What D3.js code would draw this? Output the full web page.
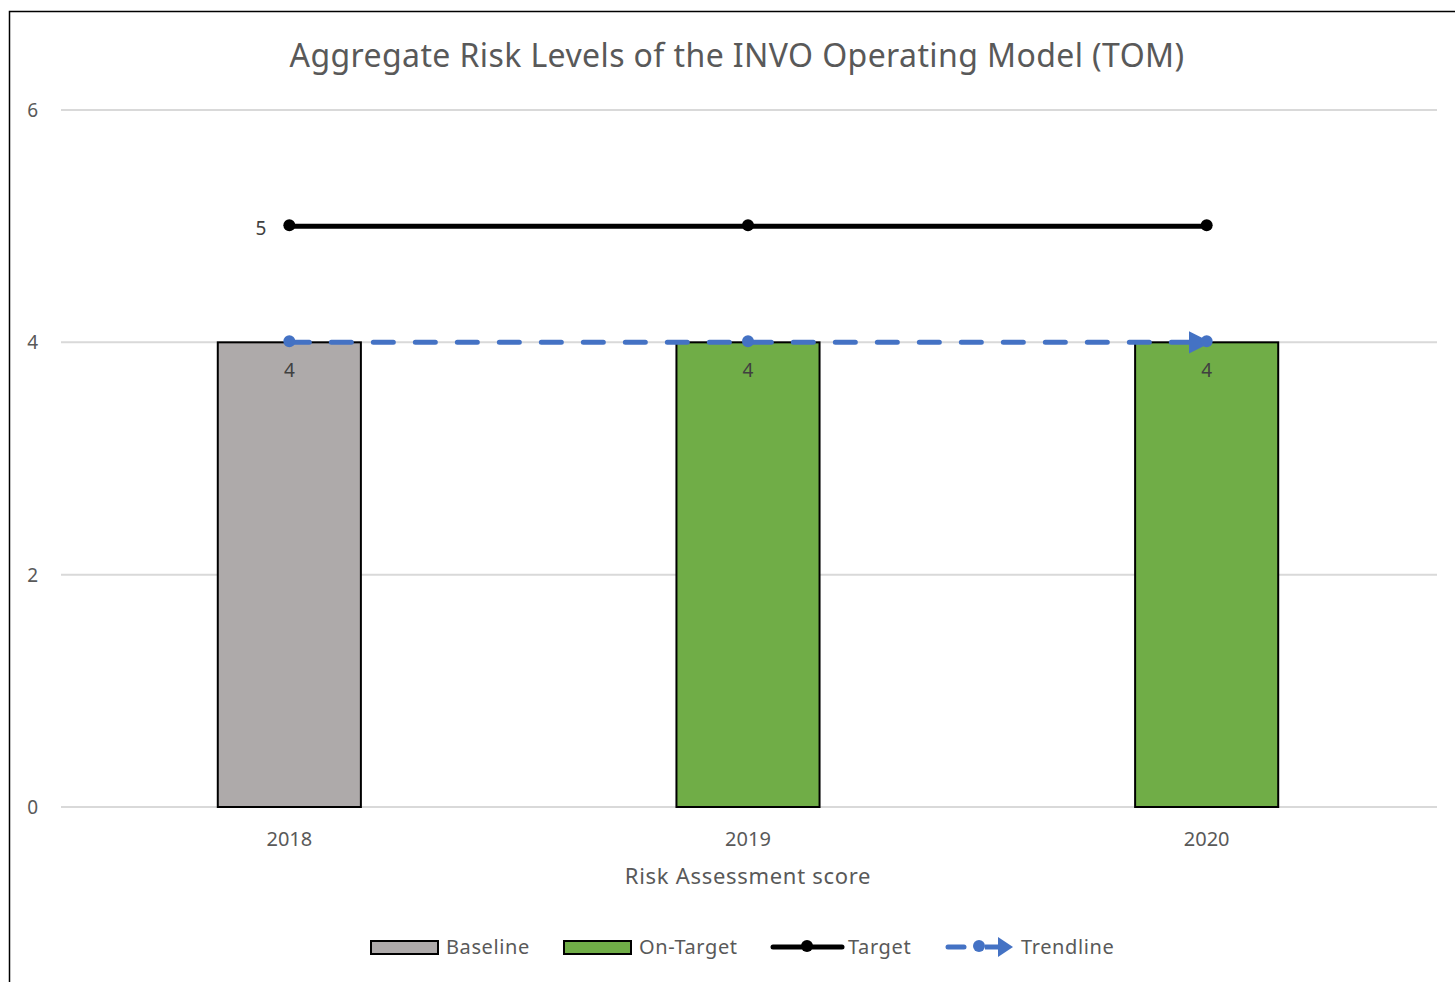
<!DOCTYPE html>
<html>
<head>
<meta charset="utf-8">
<script src="https://cdn.jsdelivr.net/npm/d3@7"></script>
<style>
  body { margin: 0; background: #fff; }
  text { font-family: "Noto Sans", "Open Sans", sans-serif; fill: #595959; }
</style>
</head>
<body>
<div id="chart"></div>
<script>
// chart data
let years = ["2018", "2019", "2020"];
let barValues = [4, 4, 4];
let barSeries = ["Baseline", "On-Target", "On-Target"];
let targetValues = [5, 5, 5];
let trendValues = [4, 4, 4];
let yTicks = [0, 2, 4, 6];

let width = 1455, height = 982;
let margin = {top: 110, right: 18, bottom: 175, left: 61};

let svg = d3.select("#chart").append("svg")
    .attr("width", width)
    .attr("height", height);

// outer frame (only left and top edge visible)
svg.append("path")
    .attr("d", "M9.5," + height + "V11.5H" + width)
    .attr("fill", "none")
    .attr("stroke", "#000")
    .attr("stroke-width", 1.5);

svg.append("text")
    .attr("x", 737)
    .attr("y", 67)
    .attr("text-anchor", "middle")
    .style("font-size", "32px")
    .style("letter-spacing", "0.4px")
    .text("Aggregate Risk Levels of the INVO Operating Model (TOM)");

let x = d3.scaleBand()
    .domain(years)
    .range([margin.left, width - margin.right])
    .paddingInner(0)
    .paddingOuter(0);

let y = d3.scaleLinear()
    .domain([0, 6])
    .range([height - margin.bottom, margin.top]);

let barW = x.bandwidth() * 0.312;
let cx = d => x(d) + x.bandwidth() / 2 - 1;

let colors = {"Baseline": "#AEAAAA", "On-Target": "#70AD47"};

// gridlines
svg.append("g").selectAll("line")
    .data(yTicks)
    .enter().append("line")
    .attr("x1", margin.left)
    .attr("x2", width - margin.right)
    .attr("y1", d => y(d))
    .attr("y2", d => y(d))
    .attr("stroke", "#D9D9D9")
    .attr("stroke-width", 2);

// y tick labels
svg.append("g").selectAll("text")
    .data(yTicks)
    .enter().append("text")
    .attr("x", 38)
    .attr("y", d => y(d) + 7)
    .attr("text-anchor", "end")
    .style("font-size", "19px")
    .text(d => d);

// bars
svg.append("g").selectAll("rect")
    .data(years)
    .enter().append("rect")
    .attr("x", d => cx(d) - barW / 2)
    .attr("y", (d, i) => y(barValues[i]))
    .attr("width", barW)
    .attr("height", (d, i) => y(0) - y(barValues[i]))
    .attr("fill", (d, i) => colors[barSeries[i]])
    .attr("stroke", "#000")
    .attr("stroke-width", 2);

// bar labels
svg.append("g").selectAll("text")
    .data(years)
    .enter().append("text")
    .attr("x", d => cx(d))
    .attr("y", (d, i) => y(barValues[i]) + 35)
    .attr("text-anchor", "middle")
    .style("font-size", "19px")
    .style("fill", "#404040")
    .text((d, i) => barValues[i]);

// x labels
svg.append("g").selectAll("text")
    .data(years)
    .enter().append("text")
    .attr("x", d => cx(d))
    .attr("y", y(0) + 39)
    .attr("text-anchor", "middle")
    .style("font-size", "20px")
    .text(d => d);

svg.append("text")
    .attr("x", 748)
    .attr("y", 884)
    .attr("text-anchor", "middle")
    .style("font-size", "22px")
    .style("letter-spacing", "0.7px")
    .text("Risk Assessment score");

// target line
let line = d3.line()
    .x(d => cx(d.year))
    .y(d => y(d.value));

let targetData = years.map((d, i) => ({year: d, value: targetValues[i]}));
svg.append("path")
    .datum(targetData)
    .attr("d", line)
    .attr("fill", "none")
    .attr("stroke", "#000")
    .attr("stroke-width", 5);
svg.append("g").selectAll("circle")
    .data(targetData)
    .enter().append("circle")
    .attr("cx", d => cx(d.year))
    .attr("cy", d => y(d.value) - 1)
    .attr("r", 6)
    .attr("fill", "#000");
svg.append("text")
    .attr("x", cx(years[0]) - 23)
    .attr("y", y(targetValues[0]) + 9)
    .attr("text-anchor", "end")
    .style("font-size", "19px")
    .style("fill", "#404040")
    .text(targetValues[0]);

// trendline
let trendData = years.map((d, i) => ({year: d, value: trendValues[i]}));
let blue = "#4472C4";
svg.append("defs").append("marker")
    .attr("id", "arrow")
    .attr("viewBox", "0 0 10 10")
    .attr("refX", 8)
    .attr("refY", 5)
    .attr("markerWidth", 4.5)
    .attr("markerHeight", 4.5)
    .attr("markerUnits", "strokeWidth")
    .attr("orient", "auto")
    .append("path")
    .attr("d", "M0,0L10,5L0,10Z")
    .attr("fill", blue);

svg.append("path")
    .datum(trendData)
    .attr("d", line)
    .attr("fill", "none")
    .attr("stroke", blue)
    .attr("stroke-width", 5)
    .attr("stroke-linecap", "round")
    .attr("stroke-dasharray", "20,22")
    .attr("marker-end", "url(#arrow)");
svg.append("g").selectAll("circle")
    .data(trendData)
    .enter().append("circle")
    .attr("cx", d => cx(d.year))
    .attr("cy", d => y(d.value) - 1)
    .attr("r", 6)
    .attr("fill", blue);

// legend
let legendY = 947;
let lg = svg.append("g");
let lgFont = "20px", lgSpacing = "0.6px";

lg.append("rect").attr("x", 371).attr("y", legendY - 6).attr("width", 67).attr("height", 13)
    .attr("fill", colors["Baseline"]).attr("stroke", "#000").attr("stroke-width", 2);
lg.append("text").attr("x", 446).attr("y", legendY + 7).style("font-size", lgFont)
    .style("letter-spacing", lgSpacing).text("Baseline");

lg.append("rect").attr("x", 564).attr("y", legendY - 6).attr("width", 67).attr("height", 13)
    .attr("fill", colors["On-Target"]).attr("stroke", "#000").attr("stroke-width", 2);
lg.append("text").attr("x", 639).attr("y", legendY + 7).style("font-size", lgFont)
    .style("letter-spacing", lgSpacing).text("On-Target");

lg.append("line").attr("x1", 773).attr("x2", 842).attr("y1", legendY).attr("y2", legendY)
    .attr("stroke", "#000").attr("stroke-width", 5).attr("stroke-linecap", "round");
lg.append("circle").attr("cx", 807).attr("cy", legendY - 1).attr("r", 6).attr("fill", "#000");
lg.append("text").attr("x", 848).attr("y", legendY + 7).style("font-size", lgFont)
    .style("letter-spacing", lgSpacing).text("Target");

lg.append("line").attr("x1", 948).attr("x2", 964).attr("y1", legendY).attr("y2", legendY)
    .attr("stroke", blue).attr("stroke-width", 5).attr("stroke-linecap", "round");
lg.append("circle").attr("cx", 979).attr("cy", legendY - 1).attr("r", 6).attr("fill", blue);
lg.append("line").attr("x1", 985).attr("x2", 1000).attr("y1", legendY).attr("y2", legendY)
    .attr("stroke", blue).attr("stroke-width", 5);
lg.append("path").attr("d", "M998," + (legendY - 10) + "L1013," + legendY + "L998," + (legendY + 10) + "Z")
    .attr("fill", blue);
lg.append("text").attr("x", 1021).attr("y", legendY + 7).style("font-size", lgFont)
    .style("letter-spacing", lgSpacing).text("Trendline");
</script>
</body>
</html>
